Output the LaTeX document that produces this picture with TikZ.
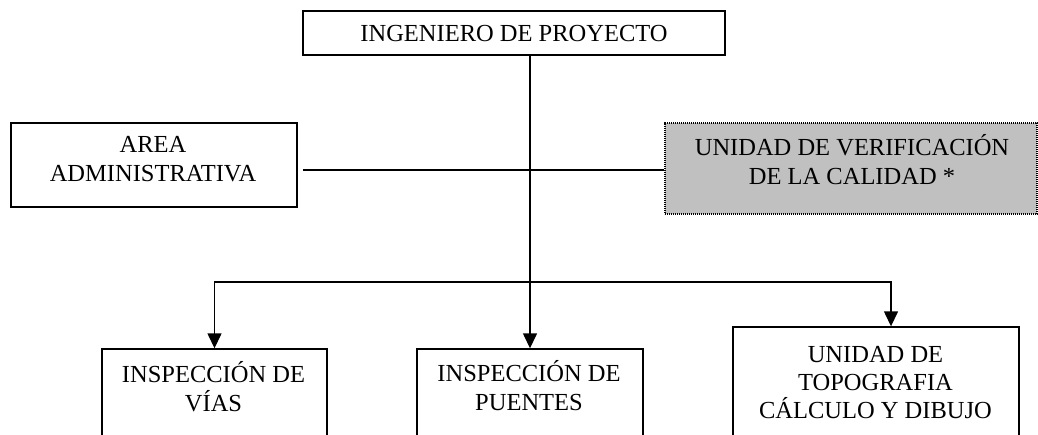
\documentclass[tikz,border=0pt]{standalone}
\usepackage{fontspec}
\setmainfont{Liberation Serif}
\usetikzlibrary{arrows.meta}
\newcommand{\tst}{\rule{0pt}{24pt}}
\begin{document}
\begin{tikzpicture}[x=1pt,y=-1pt,
  box/.style={draw, line width=1.4pt, inner sep=0pt},
  graybox/.style={draw, fill={rgb,255:red,192;green,192;blue,192}, line width=1.3pt, dash pattern=on 1.1pt off 0.9pt, inner sep=0pt},
  txt/.style={align=center, inner sep=0pt, anchor=north, font=\fontsize{24.5}{29.5}\selectfont},
  conn/.style={line width=1.4pt},
  arr/.style={conn, -{Triangle[length=15pt,width=14pt]}}]
\useasboundingbox (0,0) rectangle (1038,434);
% boxes
\node[box, minimum width=422pt, minimum height=44pt] (top) at (514,33) {};
\node[box, minimum width=286pt, minimum height=84pt] (area) at (154,165) {};
\node[graybox, minimum width=372pt, minimum height=91pt] (gray) at (851,168.5) {};
\node[box, minimum width=225pt, minimum height=121pt] (vias) at (214.5,409.5) {};
\node[box, minimum width=226pt, minimum height=121pt] (puentes) at (530,409.5) {};
\node[box, minimum width=286pt, minimum height=143pt] (topo) at (876,398.5) {};
% texts
\node[txt] (ttop) at (514,17) {\tst INGENIERO DE PROYECTO};
\node[txt] (tarea) at (153,128) {\tst AREA\\ADMINISTRATIVA};
\node[txt] (tgray) at (852,131) {\tst UNIDAD DE VERIFICACIÓN\\DE LA CALIDAD *};
\node[txt] (tvias) at (213.5,358) {\tst INSPECCIÓN DE\\VÍAS};
\node[txt] (tpuentes) at (529,357) {\tst INSPECCIÓN DE\\PUENTES};
\node[txt, font=\fontsize{24.5}{28}\selectfont] (ttopo) at (875.5,338) {\tst UNIDAD DE\\TOPOGRAFIA\\CÁLCULO Y DIBUJO};
% connectors
\coordinate (j) at (530,282);
\coordinate (hl) at (303,170);
\coordinate (tarr) at ([xshift=15pt]topo.north);
\draw[conn] (top.south -| j) -- (j);
\draw[conn] (hl) -- (gray.west |- hl);
\draw[arr] (j) -- (puentes.north);
\draw[arr] (j) -| (vias.north);
\draw[arr] (j) -| (tarr);
\end{tikzpicture}
\end{document}
